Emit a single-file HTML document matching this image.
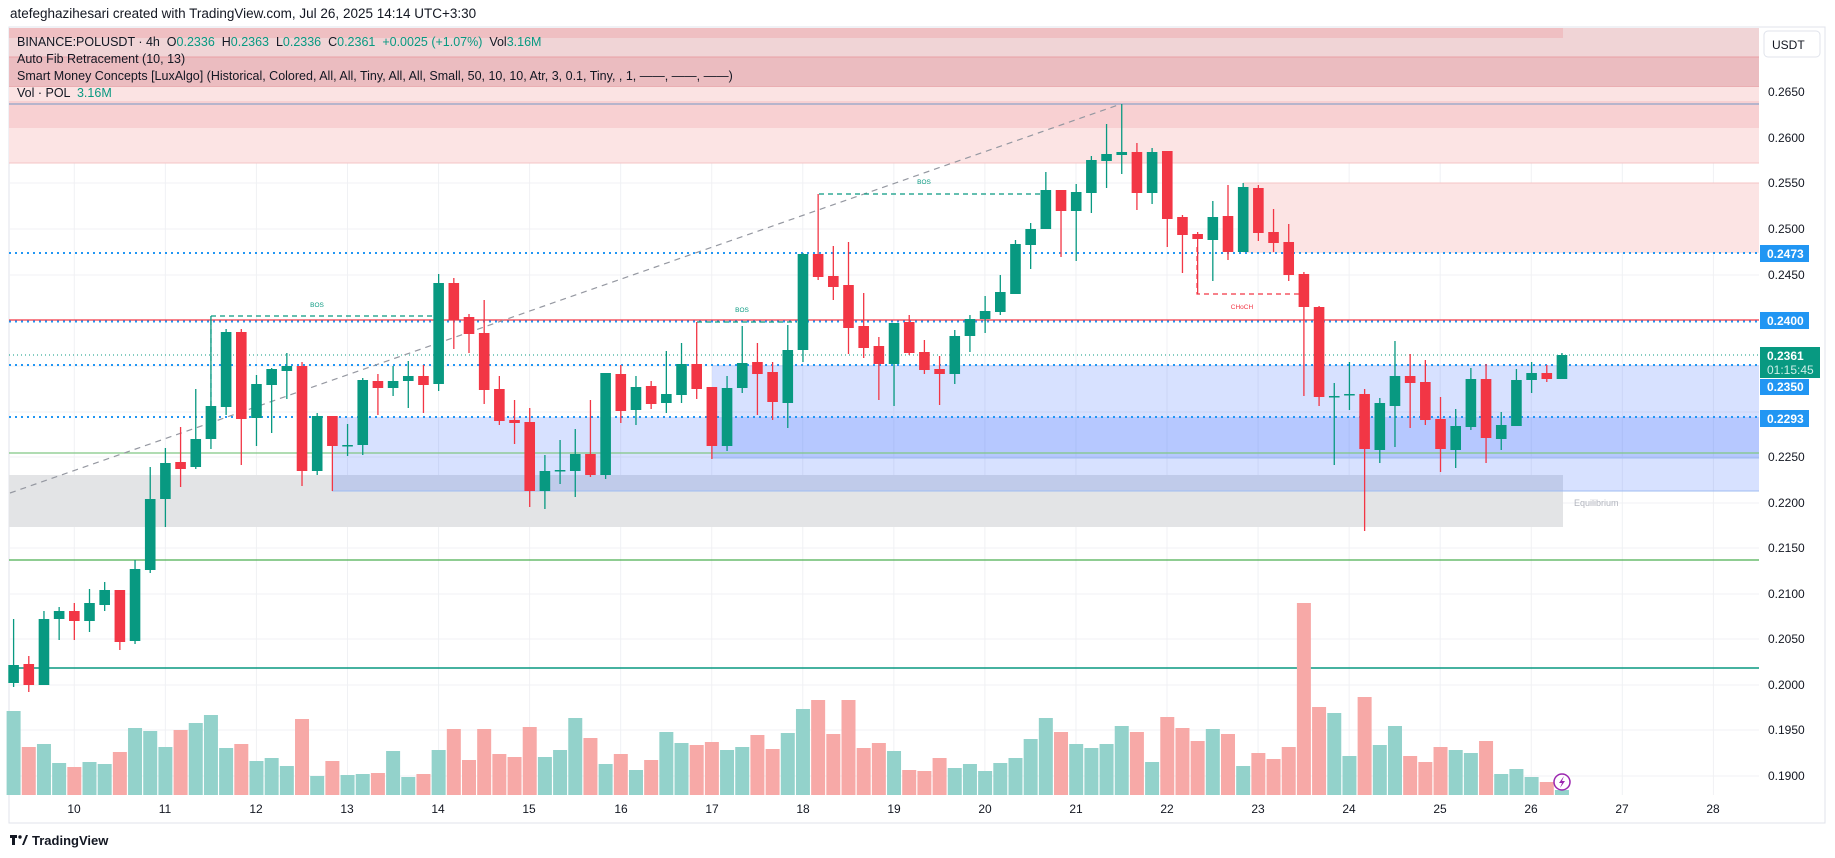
<!DOCTYPE html>
<html><head><meta charset="utf-8">
<style>
html,body{margin:0;padding:0;background:#fff;}
body{width:1835px;height:858px;overflow:hidden;position:relative;font-family:"Liberation Sans",sans-serif;}
svg{position:absolute;left:0;top:0;}
.lg{position:absolute;left:17px;font-size:12.5px;color:#131722;white-space:nowrap;}
.g{color:#089981;}
</style></head><body>
<svg id="s" width="1835" height="858" viewBox="0 0 1835 858" font-family="Liberation Sans, sans-serif">
<rect x="9" y="27" width="1816" height="796" fill="#fff" stroke="#e0e3eb"/>
<g id="grid" stroke="#f0f1f4" stroke-width="1"></g>
<!-- top pink zones -->
<rect x="9" y="28" width="1750" height="29" fill="#f0d4d6"/>
<rect x="9" y="28" width="1554" height="10" fill="#eeb6b9" opacity="0.7"/>
<rect x="9" y="57" width="1750" height="30" fill="#ebbcc0"/>
<line x1="9" y1="57" x2="1759" y2="57" stroke="#e8a0a5"/>
<line x1="9" y1="87" x2="1759" y2="87" stroke="#e8a0a5"/>
<rect x="9" y="87" width="1750" height="14" fill="#fbe3e3"/>
<rect x="9" y="101" width="1750" height="27" fill="#f8d0d2"/>
<line x1="9" y1="104" x2="1759" y2="104" stroke="#8fa3c8" stroke-width="1.2"/>
<rect x="9" y="128" width="1750" height="35" fill="#fce4e4"/>
<line x1="9" y1="163" x2="1759" y2="163" stroke="#f5c4c6"/>
<!-- right pink zone -->
<rect x="1243" y="183" width="516" height="70" fill="#fce4e4"/>
<line x1="1243" y1="183" x2="1759" y2="183" stroke="#f5c4c6"/>
<!-- equilibrium gray -->
<rect x="9" y="475" width="1554" height="52" fill="#e3e4e6"/>
<!-- blue zones -->
<rect x="332" y="417" width="1427" height="74" fill="rgba(41,98,255,0.19)"/>
<rect x="712" y="365" width="1047" height="93" fill="rgba(41,98,255,0.19)"/>
<line x1="332" y1="491" x2="1759" y2="491" stroke="#9fbcf2"/>
<line x1="712" y1="458" x2="1759" y2="458" stroke="#9fbcf2"/>
<text x="1574" y="506" font-size="9" fill="#b2b5be">Equilibrium</text>
<!-- horizontal lines -->
<line x1="9" y1="453" x2="1759" y2="453" stroke="#81c784" stroke-width="1.3"/>
<line x1="9" y1="560" x2="1759" y2="560" stroke="#4caf50" stroke-width="1.3"/>
<line x1="9" y1="668" x2="1759" y2="668" stroke="#089981" stroke-width="1.5"/>
<line x1="9" y1="320" x2="1759" y2="320" stroke="#f23645" stroke-width="1.3"/>
<g stroke="#2196f3" stroke-width="2" stroke-dasharray="2,4">
<line x1="9" y1="253" x2="1759" y2="253"/>
<line x1="9" y1="321.5" x2="1759" y2="321.5"/>
<line x1="9" y1="365" x2="1759" y2="365"/>
<line x1="9" y1="417" x2="1759" y2="417"/>
</g>
<line x1="9" y1="355" x2="1759" y2="355" stroke="#089981" stroke-width="1" stroke-dasharray="1,3"/>
<!-- fib dashed -->
<line x1="10" y1="493" x2="1121" y2="104" stroke="#9598a1" stroke-width="1.2" stroke-dasharray="6,5"/>
<!-- BOS / CHoCH -->
<g stroke="#089981" stroke-width="1.2" stroke-dasharray="5,4" fill="none">
<polyline points="211,406 211,316 432,316"/>
<polyline points="697,322 797,322"/>
<polyline points="819,194 1042,194"/>
</g>
<g stroke="#f23645" stroke-width="1.2" stroke-dasharray="5,4" fill="none">
<polyline points="1197,247 1197,294 1299,294"/>
</g>
<text x="317" y="307" font-size="6.5" fill="#089981" text-anchor="middle">BOS</text>
<text x="742" y="312" font-size="6.5" fill="#089981" text-anchor="middle">BOS</text>
<text x="924" y="184" font-size="6.5" fill="#089981" text-anchor="middle">BOS</text>
<text x="1242" y="309" font-size="6.5" fill="#f23645" text-anchor="middle">CHoCH</text>
<g id="vol"></g>
<g id="cand"></g>
<!-- lightning -->
<circle cx="1562" cy="782" r="8" fill="#fff" stroke="#9c27b0" stroke-width="1.5"/>
<path d="M1564 776 L1559 783 L1562 783 L1560 788 L1565 781 L1562 781 Z" fill="#9c27b0"/>
<!-- price axis -->
<rect x="1760" y="28" width="64" height="794" fill="#fff"/>
<rect x="1764" y="31" width="56" height="26" rx="4" fill="#fff" stroke="#e0e3eb"/>
<text x="1772" y="49" font-size="12" fill="#131722">USDT</text>
<g font-size="12" fill="#131722">
<text x="1768" y="96">0.2650</text>
<text x="1768" y="142">0.2600</text>
<text x="1768" y="187">0.2550</text>
<text x="1768" y="233">0.2500</text>
<text x="1768" y="279">0.2450</text>
<text x="1768" y="461">0.2250</text>
<text x="1768" y="507">0.2200</text>
<text x="1768" y="552">0.2150</text>
<text x="1768" y="598">0.2100</text>
<text x="1768" y="643">0.2050</text>
<text x="1768" y="689">0.2000</text>
<text x="1768" y="734">0.1950</text>
<text x="1768" y="780">0.1900</text>
</g>
<g font-size="12" font-weight="bold" fill="#fff">
<rect x="1760" y="245" width="49" height="17" fill="#2196f3"/><text x="1767" y="258">0.2473</text>
<rect x="1760" y="312" width="49" height="17" fill="#2196f3"/><text x="1767" y="325">0.2400</text>
<rect x="1760" y="347" width="60" height="31" fill="#089981"/><text x="1767" y="360">0.2361</text>
<text x="1767" y="374" font-weight="normal" fill="#cdeee8">01:15:45</text>
<rect x="1760" y="379" width="49" height="16" fill="#2196f3"/><text x="1767" y="391">0.2350</text>
<rect x="1760" y="410" width="49" height="17" fill="#2196f3"/><text x="1767" y="423">0.2293</text>
</g>
<!-- x axis labels -->
<g id="xl" font-size="12" fill="#131722" text-anchor="middle">
<text x="74" y="813">10</text><text x="165" y="813">11</text><text x="256" y="813">12</text><text x="347" y="813">13</text><text x="438" y="813">14</text><text x="529" y="813">15</text><text x="621" y="813">16</text><text x="712" y="813">17</text><text x="803" y="813">18</text><text x="894" y="813">19</text><text x="985" y="813">20</text><text x="1076" y="813">21</text><text x="1167" y="813">22</text><text x="1258" y="813">23</text><text x="1349" y="813">24</text><text x="1440" y="813">25</text><text x="1531" y="813">26</text><text x="1622" y="813">27</text><text x="1713" y="813">28</text>
</g>
<!-- logo -->
<rect x="10" y="835" width="7" height="3" fill="#131722"/><rect x="12" y="838" width="3" height="7" fill="#131722"/>
<circle cx="20" cy="837" r="1.7" fill="#131722"/><path d="M22 845 L26 835 L28 835 L24 845Z" fill="#131722"/>
<text x="32" y="845" font-size="13" font-weight="bold" fill="#131722">TradingView</text>
</svg>
<div class="lg" style="top:6px;left:10px;font-size:13.5px;">atefeghazihesari created with TradingView.com, Jul 26, 2025 14:14 UTC+3:30</div>
<div class="lg" style="top:35px;">BINANCE:POLUSDT · 4h &nbsp;O<span class="g">0.2336</span> &nbsp;H<span class="g">0.2363</span> &nbsp;L<span class="g">0.2336</span> &nbsp;C<span class="g">0.2361</span> &nbsp;<span class="g">+0.0025 (+1.07%)</span> &nbsp;Vol<span class="g">3.16M</span></div>
<div class="lg" style="top:52px;">Auto Fib Retracement (10, 13)</div>
<div class="lg" style="top:69px;">Smart Money Concepts [LuxAlgo] (Historical, Colored, All, All, Tiny, All, All, Small, 50, 10, 10, Atr, 3, 0.1, Tiny, , 1, ——, ——, ——)</div>
<div class="lg" style="top:86px;">Vol · POL &nbsp;<span class="g">3.16M</span></div>
<script>
var NS="http://www.w3.org/2000/svg";
function el(p,t,a){var e=document.createElementNS(NS,t);for(var k in a)e.setAttribute(k,a[k]);p.appendChild(e);return e;}
var grid=document.getElementById('grid');
[92,138,183,229,275,320,366,412,457,503,548,594,639,685,730,776].forEach(function(y){el(grid,'line',{x1:9,y1:y,x2:1759,y2:y});});
for(var d=0;d<19;d++){var x=74.3+d*91.06;el(grid,'line',{x1:x,y1:28,x2:x,y2:795});}
var C=[[665,683,619,687,1],[664,685,656,692,0],[619,685,611,685,1],[611,619,607,640,1],[611,621,603,640,0],[603,621,589,632,1],[590,605,582,611,1],[590,642,590,650,0],[569,641,560,644,1],[499,570,467,573,1],[463,499,448,527,1],[462,469,427,487,0],[439,467,389,469,1],[406,439,316,449,1],[332,407,329,415,1],[332,419,329,465,0],[384,418,375,446,1],[369,385,368,433,1],[366,371,353,399,1],[366,471,362,486,0],[416,471,413,475,1],[416,446,416,491,0],[445,446,424,456,1],[380,445,378,455,1],[381,388,374,415,0],[381,388,366,396,1],[376,381,361,408,1],[376,385,365,413,0],[283,384,274,391,1],[283,320,278,349,0],[317,334,314,353,0],[333,390,300,404,0],[389,421,376,425,0],[420,423,400,444,0],[422,491,408,507,0],[471,491,455,509,1],[470,471,440,484,1],[454,471,429,497,1],[454,475,400,477,0],[373,475,373,479,1],[374,411,365,423,0],[387,410,376,425,1],[386,404,381,409,0],[394,403,351,413,1],[364,395,343,403,1],[364,389,322,399,0],[387,446,387,459,0],[388,446,376,451,1],[363,388,326,393,1],[362,374,343,415,0],[372,402,362,420,0],[350,403,325,428,1],[254,350,253,362,1],[254,277,194,280,0],[276,287,246,300,0],[285,328,242,354,0],[326,348,293,358,0],[346,364,337,400,0],[323,364,323,406,1],[322,353,315,355,0],[352,370,340,374,0],[369,374,356,405,0],[336,374,330,384,1],[319,336,315,352,1],[311,319,296,333,1],[292,312,275,315,1],[244,294,240,294,1],[229,245,223,269,1],[190,229,172,229,1],[190,211,190,257,0],[192,211,184,261,1],[160,193,156,213,1],[154,161,124,188,1],[152,155,104,174,1],[152,193,143,210,0],[152,193,148,204,1],[151,219,151,247,0],[217,235,215,273,0],[234,239,232,294,0],[217,240,201,281,1],[216,252,185,260,0],[187,252,183,252,1],[188,233,185,241,0],[232,243,209,252,0],[242,275,224,281,0],[274,307,272,396,0],[307,397,306,406,0],[396,397,383,465,1],[394,395,362,410,1],[394,449,389,531,0],[403,450,398,463,1],[376,406,341,447,1],[376,383,354,428,0],[382,420,360,425,0],[419,449,397,472,0],[426,450,409,468,1],[379,427,368,430,1],[379,438,364,463,0],[425,439,412,450,1],[380,426,369,426,1],[373,380,362,393,1],[373,379,365,382,0],[355,379,353,379,1]];
var V=[363,471,462,519,531,516,522,486,414,423,471,420,399,375,474,462,513,504,528,387,558,513,555,552,549,483,561,552,480,417,510,417,492,501,411,501,480,384,444,522,492,540,510,426,459,465,456,480,471,435,477,429,357,330,432,330,474,459,483,540,543,504,534,522,543,519,504,447,384,426,462,474,462,408,426,516,381,414,453,417,432,528,489,507,471,39,351,369,498,321,465,408,498,516,471,480,489,453,552,537,561,576,600];
var cg=document.getElementById('cand'),vg=document.getElementById('vol');
for(var k=0;k<C.length;k++){var x=13.6+k*15.18,c=C[k],col=c[4]?'#089981':'#f23645';
 var vt=590+V[k]/3;el(vg,'rect',{x:x-7,y:vt,width:14,height:795-vt,fill:c[4]?'#93d2cb':'#f7a9a7'});
 el(cg,'line',{x1:x,y1:c[2],x2:x,y2:c[3],stroke:col,'stroke-width':1.3});
 el(cg,'rect',{x:x-5.3,y:c[0],width:10.6,height:Math.max(1.5,c[1]-c[0]),fill:col});}
</script>
</body></html>
